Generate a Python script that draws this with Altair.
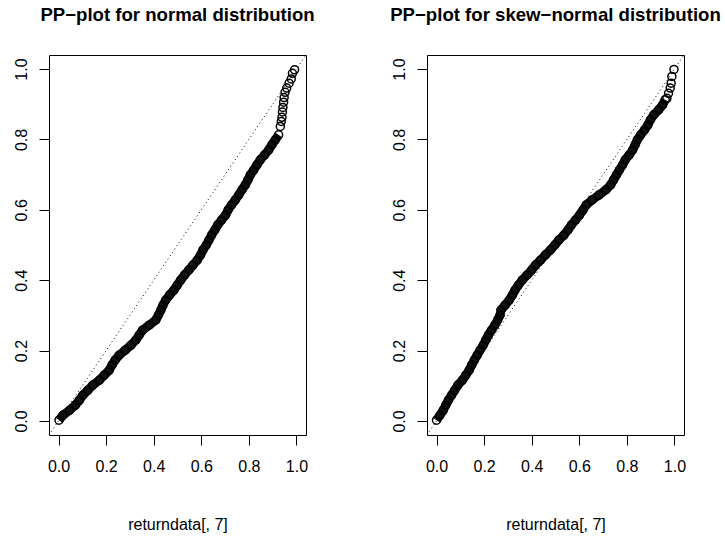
import altair as alt
import pandas as pd

# ---- data ----
norm_x = [0.002, 0.018, 0.046, 0.071, 0.088, 0.102, 0.123, 0.144, 0.172, 0.192,
          0.213, 0.225, 0.238, 0.255, 0.280, 0.304, 0.325, 0.339, 0.353, 0.381,
          0.409, 0.420, 0.430, 0.439, 0.450, 0.467, 0.485, 0.499, 0.513, 0.530,
          0.548, 0.565, 0.583, 0.597, 0.607, 0.621, 0.632, 0.643, 0.657, 0.669,
          0.685, 0.702, 0.713, 0.727, 0.743, 0.757, 0.771, 0.785, 0.796, 0.806,
          0.820, 0.834, 0.848, 0.866, 0.883, 0.897, 0.911, 0.925]
norm_y = [0.002, 0.016, 0.030, 0.045, 0.059, 0.073, 0.087, 0.102, 0.116, 0.130,
          0.144, 0.159, 0.173, 0.187, 0.201, 0.215, 0.230, 0.244, 0.258, 0.272,
          0.287, 0.301, 0.315, 0.329, 0.343, 0.358, 0.372, 0.386, 0.400, 0.415,
          0.429, 0.443, 0.457, 0.472, 0.486, 0.500, 0.514, 0.528, 0.543, 0.557,
          0.571, 0.585, 0.600, 0.614, 0.628, 0.642, 0.657, 0.671, 0.685, 0.699,
          0.713, 0.728, 0.742, 0.756, 0.770, 0.785, 0.799, 0.813]
norm_tail_x = [0.932, 0.936, 0.939, 0.941, 0.943, 0.946, 0.948, 0.952, 0.959,
               0.969, 0.978, 0.983, 0.992]
norm_tail_y = [0.837, 0.851, 0.863, 0.878, 0.891, 0.906, 0.919, 0.934, 0.946,
               0.960, 0.972, 0.988, 0.998]

skew_x = [0.000, 0.014, 0.028, 0.039, 0.050, 0.063, 0.076, 0.090, 0.109, 0.123,
          0.137, 0.148, 0.159, 0.171, 0.183, 0.196, 0.207, 0.218, 0.231, 0.245,
          0.257, 0.267, 0.271, 0.288, 0.305, 0.319, 0.330, 0.344, 0.360, 0.381,
          0.400, 0.416, 0.437, 0.458, 0.479, 0.497, 0.514, 0.535, 0.553, 0.567,
          0.584, 0.601, 0.616, 0.629, 0.654, 0.682, 0.712, 0.732, 0.744, 0.756,
          0.768, 0.782, 0.793, 0.810, 0.824, 0.835, 0.844, 0.858, 0.874, 0.888,
          0.899, 0.913, 0.933, 0.950, 0.961]
skew_y = [0.002, 0.016, 0.030, 0.045, 0.059, 0.073, 0.087, 0.102, 0.116, 0.130,
          0.144, 0.159, 0.173, 0.187, 0.201, 0.215, 0.230, 0.244, 0.258, 0.272,
          0.287, 0.301, 0.315, 0.329, 0.343, 0.358, 0.372, 0.386, 0.400, 0.415,
          0.429, 0.443, 0.457, 0.472, 0.486, 0.500, 0.514, 0.528, 0.543, 0.557,
          0.571, 0.585, 0.600, 0.614, 0.628, 0.642, 0.657, 0.671, 0.685, 0.699,
          0.713, 0.728, 0.742, 0.756, 0.770, 0.785, 0.799, 0.813, 0.827, 0.841,
          0.856, 0.870, 0.884, 0.898, 0.913]
skew_tail_x = [0.968, 0.975, 0.982, 0.986, 0.989, 0.998]
skew_tail_y = [0.917, 0.931, 0.946, 0.960, 0.979, 0.999]

diag = [-0.04, 1.04]
tick_values = [0.0, 0.2, 0.4, 0.6, 0.8, 1.0]
titles = ["PP\u2212plot for normal distribution",
          "PP\u2212plot for skew\u2212normal distribution"]
x_label = "returndata[, 7]"

FONT = "Liberation Sans"
W, H = 257, 380
DOMAIN = [-0.04, 1.04]


def panel(dx, dy, tx, ty, title):
    pts = pd.DataFrame({"x": dx + tx, "y": dy + ty,
                        "o": list(range(len(dx) + len(tx))),
                        "dense": [1] * len(dx) + [0] * len(tx)})
    dd = pd.DataFrame({"x": diag, "y": diag})
    xsc = alt.Scale(domain=DOMAIN, nice=False, zero=False)
    ysc = alt.Scale(domain=DOMAIN, nice=False, zero=False)
    xax = alt.Axis(values=tick_values, format=".1f", title=x_label, grid=False,
                   domain=False, tickSize=10, tickColor="black", tickWidth=1,
                   labelFont=FONT, labelFontSize=16, labelColor="black",
                   labelPadding=26, labelBaseline="alphabetic", labelAlign="center",
                   titleFont=FONT, titleFontSize=16, titleFontWeight="normal",
                   titleColor="black", titleBaseline="alphabetic", titleY=94)
    yax = alt.Axis(values=tick_values, format=".1f", title=None, grid=False,
                   domain=False, tickSize=10, tickColor="black", tickWidth=1,
                   labelFont=FONT, labelFontSize=16, labelColor="black",
                   labelAngle=270, labelAlign="center", labelBaseline="alphabetic",
                   labelPadding=13)
    X = alt.X("x:Q", scale=xsc, axis=xax)
    Y = alt.Y("y:Q", scale=ysc, axis=yax)
    d_line = alt.Chart(dd).mark_line(color="black", strokeWidth=1,
                                     strokeDash=[1, 3]).encode(x=X, y=Y)
    band = alt.Chart(pts).transform_filter(alt.datum.dense == 1).mark_line(
        color="#111111", strokeWidth=9).encode(x="x:Q", y="y:Q", order="o:Q")
    circ = alt.Chart(pts).mark_point(shape="circle", filled=False, color="black",
                                     size=64, strokeWidth=1.5, opacity=1).encode(
        x="x:Q", y="y:Q")
    return alt.layer(band, circ, d_line).properties(
        width=W, height=H,
        title=alt.TitleParams(text=title, font=FONT, fontSize=18.6, fontWeight="bold",
                              color="black", anchor="middle",
                              baseline="alphabetic", offset=13))


left = panel(norm_x, norm_y, norm_tail_x, norm_tail_y, titles[0])
right = panel(skew_x, skew_y, skew_tail_x, skew_tail_y, titles[1])

chart = alt.hconcat(left, right, spacing=121, bounds="flush").properties(
    padding={"left": 12, "top": 5, "right": 0, "bottom": 0},
    background="white",
).configure_view(stroke="black", strokeWidth=1)

chart.save("out.html", embed_options={"renderer": "svg", "actions": False})
